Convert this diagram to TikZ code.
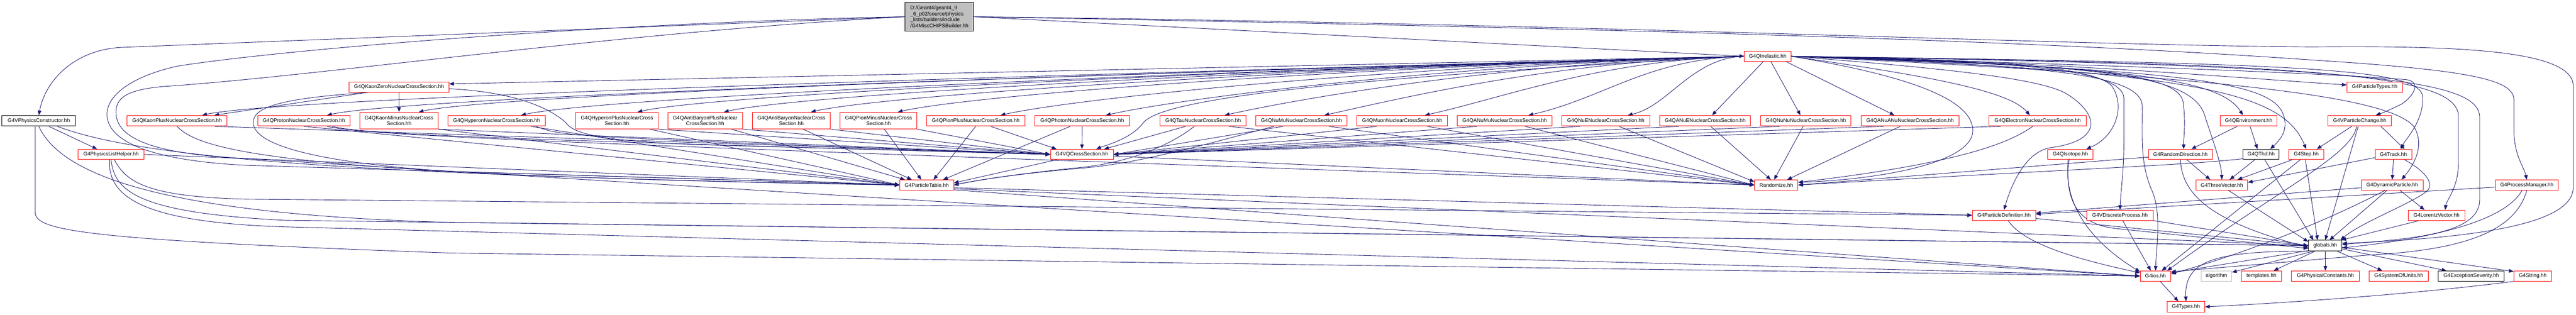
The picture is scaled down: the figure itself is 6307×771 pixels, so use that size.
\documentclass[tikz,border=0pt]{standalone}
\usepackage{fontspec}
\setmainfont{Liberation Sans}
\usetikzlibrary{arrows.meta,calc,backgrounds}
\definecolor{edgeblue}{HTML}{191970}
\definecolor{rootgray}{HTML}{BFBFBF}
\definecolor{lgray}{HTML}{BFBFBF}
\tikzset{
 nbox/.style={draw=red, line width=0.5pt, fill=white, inner sep=0pt, align=center, font=\fontsize{5.1pt}{5.9pt}\selectfont, text=black},
 blkbox/.style={nbox, draw=black},
 grybox/.style={nbox, draw=lgray},
 rootbox/.style={nbox, draw=black, fill=rootgray, align=left},
 conn/.style={draw=edgeblue, line width=0.45pt, -{Triangle[length=4.6pt,width=3.6pt]}},
}
\newcommand\nd[7]{\node[#1, minimum width={(#4-#3)*0.4pt}, minimum height={(#6-#5)*0.4pt}] (#2) at ({(#3+#4)/2},{(#5+#6)/2}) {#7};}
\newcommand\qil[3]{\draw[conn] (qi.west) .. controls ({4271-0.45*(4271-#2)},{138+0.012*(4271-#2)}) and ({#2+min(200,0.35*(4271-#2))},{#3-min(45,0.08*(4271-#2))}) .. ($(#1.north)!0.5!(#1.north east)$);}
\begin{document}
\begin{tikzpicture}[x=0.4pt,y=-0.4pt]
\useasboundingbox (0,0) rectangle (6307,771);
% nodes
\nd{rootbox}{root}{2216}{2384}{6}{76}{D:/Geant4/geant4\_9\\\_6\_p02/source/physics\\\_lists/builders/include\\/G4MiscCHIPSBuilder.hh}
\nd{blkbox}{vpc}{5}{185}{283}{309}{G4VPhysicsConstructor.hh}
\nd{nbox}{plh}{191}{353}{366}{391}{G4PhysicsListHelper.hh}
\nd{nbox}{kplus}{311}{556}{283}{309}{G4QKaonPlusNuclearCrossSection.hh}
\nd{nbox}{proton}{631}{857}{283}{309}{G4QProtonNuclearCrossSection.hh}
\nd{nbox}{kminus}{881}{1073}{275}{316}{G4QKaonMinusNuclearCross\\Section.hh}
\nd{nbox}{kzero}{855}{1099}{201}{226}{G4QKaonZeroNuclearCrossSection.hh}
\nd{nbox}{hyp}{1097}{1335}{283}{309}{G4QHyperonNuclearCrossSection.hh}
\nd{nbox}{hypplus}{1410}{1611}{275}{316}{G4QHyperonPlusNuclearCross\\Section.hh}
\nd{nbox}{abplus}{1635}{1818}{275}{316}{G4QAntiBaryonPlusNuclear\\CrossSection.hh}
\nd{nbox}{ab}{1842}{2033}{275}{316}{G4QAntiBaryonNuclearCross\\Section.hh}
\nd{nbox}{pimin}{2057}{2245}{275}{316}{G4QPionMinusNuclearCross\\Section.hh}
\nd{nbox}{piplus}{2268}{2510}{283}{309}{G4QPionPlusNuclearCrossSection.hh}
\nd{nbox}{photon}{2534}{2765}{283}{309}{G4QPhotonNuclearCrossSection.hh}
\nd{nbox}{tau}{2840}{3051}{283}{309}{G4QTauNuclearCrossSection.hh}
\nd{nbox}{numu}{3075}{3298}{283}{309}{G4QNuMuNuclearCrossSection.hh}
\nd{nbox}{muon}{3322}{3544}{283}{309}{G4QMuonNuclearCrossSection.hh}
\nd{nbox}{anumu}{3568}{3800}{283}{309}{G4QANuMuNuclearCrossSection.hh}
\nd{nbox}{nue}{3824}{4039}{283}{309}{G4QNuENuclearCrossSection.hh}
\nd{nbox}{anue}{4064}{4286}{283}{309}{G4QANuENuclearCrossSection.hh}
\nd{nbox}{nunu}{4311}{4532}{283}{309}{G4QNuNuNuclearCrossSection.hh}
\nd{nbox}{ananu}{4557}{4796}{283}{309}{G4QANuANuNuclearCrossSection.hh}
\nd{nbox}{elec}{4870}{5108}{283}{309}{G4QElectronNuclearCrossSection.hh}
\nd{nbox}{qi}{4271}{4385}{125}{151}{G4QInelastic.hh}
\nd{nbox}{pt}{2203}{2335}{441}{466}{G4ParticleTable.hh}
\nd{nbox}{vq}{2572}{2726}{366}{391}{G4VQCrossSection.hh}
\nd{nbox}{rnd}{4296}{4402}{441}{466}{Randomize.hh}
\nd{nbox}{pd}{4829}{4984}{515}{540}{G4ParticleDefinition.hh}
\nd{nbox}{qiso}{5014}{5124}{366}{391}{G4QIsotope.hh}
\nd{nbox}{qenv}{5436}{5575}{283}{309}{G4QEnvironment.hh}
\nd{nbox}{rdir}{5260}{5417}{366}{391}{G4RandomDirection.hh}
\nd{blkbox}{qthd}{5492}{5580}{366}{391}{G4QThd.hh}
\nd{nbox}{step}{5604}{5689}{366}{391}{G4Step.hh}
\nd{nbox}{tv}{5377}{5503}{441}{466}{G4ThreeVector.hh}
\nd{nbox}{vdp}{5109}{5272}{515}{540}{G4VDiscreteProcess.hh}
\nd{nbox}{ios}{5240}{5315}{664}{689}{G4ios.hh}
\nd{grybox}{algo}{5389}{5464}{664}{689}{algorithm}
\nd{nbox}{tmpl}{5488}{5586}{664}{689}{templates.hh}
\nd{nbox}{phc}{5610}{5777}{664}{689}{G4PhysicalConstants.hh}
\nd{nbox}{types}{5306}{5398}{739}{765}{G4Types.hh}
\nd{blkbox}{glob}{5652}{5734}{589}{615}{globals.hh}
\nd{nbox}{ptypes}{5746}{5882}{201}{226}{G4ParticleTypes.hh}
\nd{nbox}{vpch}{5700}{5855}{283}{309}{G4VParticleChange.hh}
\nd{nbox}{track}{5815}{5905}{366}{391}{G4Track.hh}
\nd{nbox}{dyn}{5781}{5933}{441}{466}{G4DynamicParticle.hh}
\nd{nbox}{pm}{6109}{6264}{441}{466}{G4ProcessManager.hh}
\nd{nbox}{lv}{5896}{6035}{515}{540}{G4LorentzVector.hh}
\nd{nbox}{sou}{5800}{5946}{664}{689}{G4SystemOfUnits.hh}
\nd{blkbox}{exc}{5970}{6131}{664}{689}{G4ExceptionSeverity.hh}
\nd{nbox}{str}{6155}{6247}{664}{689}{G4String.hh}
\begin{pgfonlayer}{background}
\fill[white] (0,0) rectangle (6307,771);
% root
\draw[conn] (root.west) -- (300,116) .. controls (180,121) and (110,200) .. (vpc.north);
\draw[conn] (root.west) .. controls (1500,55) and (700,120) .. (435,162) .. controls (330,185) and (262,230) .. (262,280) .. controls (262,340) and (350,392) .. (600,405) -- (pt.west);
\draw[conn] (root.west) .. controls (1500,80) and (800,185) .. (400,212) .. controls (310,220) and (284,240) .. (284,275) .. controls (284,330) and (350,372) .. (560,386) -- (ios.west);
\draw[conn] (root.east) -- (qi.west);
\draw[conn] (root.east) .. controls (4000,70) and (5000,100) .. (5660,147) .. controls (6050,172) and (6155,195) .. (6155,245) -- (6155,320) .. controls (6155,380) and (6180,410) .. (pm.north);
\draw[conn] (root.east) .. controls (4000,60) and (5000,110) .. (5660,115) .. controls (6000,112) and (6300,120) .. (6300,210) -- (6300,460) .. controls (6300,560) and (6000,585) .. ($(glob.east)!0.4!(glob.north east)$);
% G4QInelastic to cross sections
\qil{kplus}{495}{283}
\qil{proton}{800}{283}
\qil{kminus}{1025}{275}
\qil{hyp}{1276}{283}
\qil{hypplus}{1561}{275}
\qil{abplus}{1772}{275}
\qil{ab}{1985}{275}
\qil{pimin}{2198}{275}
\qil{piplus}{2450}{283}
\qil{photon}{2707}{283}
\qil{tau}{2998}{283}
\qil{numu}{3242}{283}
\qil{muon}{3488}{283}
\qil{anumu}{3742}{283}
\qil{nue}{3985}{283}
\draw[conn] (qi.west) -- ($(kzero.north east)!0.2!(kzero.south east)$);
\draw[conn] ($(qi.south west)!0.4!(qi.south east)$) -- ($(anue.north)!0.15!(anue.north east)$);
\draw[conn] ($(qi.south west)!0.57!(qi.south east)$) -- ($(nunu.north west)!0.88!(nunu.north)$);
\draw[conn] ($(qi.south west)!0.9!(qi.south east)$) -- ($(ananu.north)!0.32!(ananu.north west)$);
\draw[conn] (qi.east) .. controls (4750,190) and (4920,225) .. ($(elec.north)!0.16!(elec.north west)$);
\draw[conn] (qi.east) .. controls (5000,150) and (5400,185) .. ($(ptypes.north west)!0.3!(ptypes.south west)$);
\draw[conn] (qi.west) .. controls (3300,190) and (2850,240) .. (2800,300) .. controls (2770,340) and (2710,355) .. ($(vq.north)!0.45!(vq.north east)$);
\draw[conn] (qi.east) .. controls (4700,190) and (4830,250) .. (4830,320) .. controls (4830,400) and (4600,440) .. ($(rnd.east)!0.5!(rnd.north east)$);
\draw[conn] (qi.east) .. controls (4800,170) and (5000,195) .. (5060,230) .. controls (5140,280) and (5150,345) .. (5020,362) .. controls (4960,372) and (4925,450) .. (pd.north);
\draw[conn] (qi.east) .. controls (4850,145) and (5120,160) .. (5170,210) .. controls (5205,260) and (5180,335) .. ($(qiso.north)!0.7!(qiso.north east)$);
\draw[conn] (qi.east) .. controls (4950,150) and (5195,170) .. (5200,240) -- (5200,350) .. controls (5200,420) and (5192,470) .. (vdp.north);
\draw[conn] (qi.east) .. controls (5000,160) and (5243,180) .. (5245,260) .. controls (5246,330) and (5238,400) .. (5270,470) .. controls (5292,525) and (5280,600) .. (ios.north);
\draw[conn] (qi.east) .. controls (5050,160) and (5330,170) .. (5345,250) .. controls (5352,300) and (5346,340) .. ($(rdir.north)!0.1!(rdir.north east)$);
\draw[conn] (qi.east) .. controls (5150,160) and (5375,180) .. (5400,290) .. controls (5420,350) and (5438,400) .. (tv.north);
\draw[conn] (qi.east) .. controls (5250,160) and (5440,200) .. ($(qenv.north)!0.2!(qenv.north west)$);
\draw[conn] (qi.east) .. controls (5350,170) and (5560,200) .. (5590,280) .. controls (5605,320) and (5580,345) .. ($(qthd.north)!0.5!(qthd.north east)$);
\draw[conn] (qi.east) .. controls (5400,175) and (5590,230) .. (step.north);
\draw[conn] (qi.east) .. controls (5200,160) and (5700,180) .. (5890,195) .. controls (5930,200) and (5910,235) .. (5880,255) .. controls (5850,270) and (5830,278) .. ($(vpch.north)!0.5!(vpch.north east)$);
\draw[conn] (qi.east) .. controls (5700,155) and (5930,170) .. (5932,240) .. controls (5932,300) and (5890,340) .. ($(track.north)!0.4!(track.north east)$);
\draw[conn] (qi.east) .. controls (5500,190) and (5850,240) .. (5910,310) .. controls (5940,360) and (5905,410) .. ($(dyn.north)!0.3!(dyn.north east)$);
\draw[conn] (qi.east) .. controls (5700,155) and (6005,185) .. (6019,280) -- (6019,400) .. controls (6019,460) and (5990,490) .. ($(lv.north)!0.3!(lv.north east)$);
\draw[conn] (qi.east) .. controls (5800,160) and (6065,195) .. (6071,285) -- (6071,490) .. controls (6071,575) and (5900,585) .. ($(glob.east)!0.2!(glob.north east)$);
% cross sections to G4ParticleTable
\draw[conn] (kplus.south) .. controls (490,370) and (700,430) .. (pt.west);
\draw[conn] (proton.south) -- (pt.west);
\draw[conn] (kminus.south east) -- (pt.west);
\draw[conn] ($(hyp.south)!0.7!(hyp.south east)$) -- (pt.west);
\draw[conn] ($(hypplus.south)!0.8!(hypplus.south east)$) -- (pt.west);
\draw[conn] ($(abplus.south)!0.7!(abplus.south east)$) -- ($(pt.north west)!0.2!(pt.north)$);
\draw[conn] ($(ab.south)!0.3!(ab.south east)$) -- ($(pt.north west)!0.45!(pt.north)$);
\draw[conn] ($(pimin.south)!0.15!(pimin.south east)$) -- ($(pt.north west)!0.8!(pt.north)$);
\draw[conn] (piplus.south) -- ($(pt.north)!0.25!(pt.north east)$);
\draw[conn] ($(photon.south)!0.25!(photon.south west)$) -- ($(pt.north)!0.6!(pt.north east)$);
\draw[conn] ($(tau.south)!0.2!(tau.south west)$) .. controls (2860,360) and (2760,398) .. (2650,410) .. controls (2500,425) and (2400,440) .. (pt.east);
\draw[conn] ($(numu.south west)!0.2!(numu.south east)$) .. controls (3000,340) and (2800,400) .. (2650,412) .. controls (2500,425) and (2400,440) .. (pt.east);
\draw[conn] ($(vq.south west)!0.1!(vq.south east)$) -- ($(pt.north east)!0.3!(pt.south east)$);
\draw[conn] ($(kzero.south west)!0.2!(kzero.south east)$) .. controls (700,240) and (620,260) .. (620,300) .. controls (620,360) and (800,400) .. (1100,420) -- (pt.west);
% cross sections to G4VQCrossSection
\draw[conn] ($(kplus.south)!0.75!(kplus.south east)$) -- (vq.west);
\draw[conn] ($(proton.south)!0.6!(proton.south east)$) .. controls (900,330) and (1200,340) .. (vq.west);
\draw[conn] (kminus.south east) -- (vq.west);
\draw[conn] ($(kzero.east)!0.3!(kzero.south east)$) .. controls (1250,225) and (1340,260) .. (1385,300) .. controls (1405,330) and (1480,348) .. (1760,356) -- (vq.west);
\draw[conn] ($(hyp.south)!0.8!(hyp.south east)$) .. controls (1380,335) .. (vq.west);
\draw[conn] (hypplus.south east) -- (vq.west);
\draw[conn] (abplus.south east) -- (vq.west);
\draw[conn] (ab.south east) -- (vq.west);
\draw[conn] (pimin.south east) -- (vq.west);
\draw[conn] ($(piplus.south)!0.3!(piplus.south east)$) -- ($(vq.north west)!0.2!(vq.north)$);
\draw[conn] (photon.south) -- (vq.north);
\draw[conn] ($(tau.south west)!0.3!(tau.south east)$) -- ($(vq.north)!0.7!(vq.north east)$);
\draw[conn] ($(numu.south west)!0.3!(numu.south east)$) -- (vq.east);
\draw[conn] ($(muon.south west)!0.22!(muon.south east)$) -- (vq.east);
\draw[conn] ($(anumu.south west)!0.21!(anumu.south east)$) -- (vq.east);
\draw[conn] ($(nue.south west)!0.21!(nue.south east)$) -- (vq.east);
\draw[conn] ($(anue.south west)!0.21!(anue.south east)$) -- (vq.east);
\draw[conn] ($(nunu.south west)!0.21!(nunu.south east)$) -- (vq.east);
\draw[conn] ($(ananu.south west)!0.23!(ananu.south east)$) -- (vq.east);
\draw[conn] ($(elec.south west)!0.12!(elec.south east)$) -- (vq.east);
% to Randomize
\draw[conn] ($(proton.south)!0.5!(proton.south east)$) .. controls (900,333) and (1300,348) .. (rnd.west);
\draw[conn] ($(vq.east)!0.3!(vq.south east)$) -- (rnd.west);
\draw[conn] ($(tau.south)!0.6!(tau.south east)$) -- (rnd.west);
\draw[conn] ($(numu.south)!0.6!(numu.south east)$) -- (rnd.west);
\draw[conn] ($(muon.south)!0.55!(muon.south east)$) -- (rnd.west);
\draw[conn] ($(anumu.south)!0.43!(anumu.south east)$) -- (rnd.west);
\draw[conn] ($(nue.south)!0.3!(nue.south east)$) -- ($(rnd.west)!0.6!(rnd.north west)$);
\draw[conn] ($(anue.south)!0.12!(anue.south east)$) -- ($(rnd.north)!0.25!(rnd.north west)$);
\draw[conn] ($(nunu.south west)!0.47!(nunu.south east)$) -- ($(rnd.north)!0.1!(rnd.north west)$);
\draw[conn] ($(ananu.south)!0.2!(ananu.south west)$) -- ($(rnd.north)!0.5!(rnd.north east)$);
\draw[conn] ($(elec.south)!0.1!(elec.south west)$) .. controls (4920,350) and (4800,400) .. ($(rnd.east)!0.5!(rnd.north east)$);
\draw[conn] ($(rdir.west)!0.5!(rdir.south west)$) -- (rnd.east);
\draw[conn] ($(qthd.west)!0.8!(qthd.south west)$) .. controls (5350,405) and (5100,413) .. (rnd.east);
% physics constructor and helper
\draw[conn] ($(vpc.south)!0.27!(vpc.south east)$) -- ($(plh.north west)!0.58!(plh.north)$);
\draw[conn] ($(vpc.south)!0.5!(vpc.south east)$) .. controls (350,390) and (900,430) .. (pt.west);
\draw[conn] (vpc.south) .. controls (150,430) and (400,525) .. (1100,545) -- (glob.west);
\draw[conn] ($(vpc.south)!0.1!(vpc.south west)$) -- (86,520) .. controls (86,565) and (200,588) .. (1100,620) -- (ios.west);
\draw[conn] (plh.east) -- (pt.west);
\draw[conn] ($(plh.south)!0.1!(plh.south east)$) .. controls (310,450) and (370,482) .. (600,488) -- (pd.west);
\draw[conn] (plh.south) .. controls (280,470) and (340,522) .. (700,540) -- (glob.west);
\draw[conn] ($(plh.south)!0.05!(plh.south west)$) .. controls (265,475) and (330,545) .. (700,556) -- (ios.west);
% particle table
\draw[conn] ($(pt.east)!0.5!(pt.south east)$) -- (pd.west);
\draw[conn] ($(pt.east)!0.7!(pt.south east)$) -- (glob.west);
\draw[conn] ($(pt.east)!0.9!(pt.south east)$) -- (ios.west);
% kaon zero
\draw[conn] ($(kzero.south west)!0.18!(kzero.south east)$) -- ($(kplus.north)!0.74!(kplus.north east)$);
\draw[conn] (kzero.south) -- (kminus.north);
% right cluster
\draw[conn] ($(qenv.south west)!0.3!(qenv.south east)$) -- ($(rdir.north)!0.34!(rdir.north east)$);
\draw[conn] ($(qenv.south)!0.05!(qenv.south east)$) -- ($(qthd.north west)!0.8!(qthd.north)$);
\draw[conn] ($(rdir.south)!0.2!(rdir.south east)$) -- ($(tv.north west)!0.55!(tv.north)$);
\draw[conn] (rdir.south) .. controls (5342,480) and (5420,545) .. ($(glob.west)!0.3!(glob.south west)$);
\draw[conn] ($(qthd.south)!0.35!(qthd.south west)$) -- ($(tv.north)!0.3!(tv.north east)$);
\draw[conn] ($(qthd.south)!0.2!(qthd.south east)$) -- ($(glob.north west)!0.3!(glob.north)$);
\draw[conn] ($(step.south west)!0.1!(step.south east)$) -- ($(tv.north east)!0.4!(tv.north)$);
\draw[conn] ($(step.south west)!0.33!(step.south east)$) -- ($(ios.north)!0.4!(ios.north east)$);
\draw[conn] ($(step.south)!0.05!(step.south west)$) -- ($(glob.north west)!0.55!(glob.north)$);
\draw[conn] ($(vpch.south)!0.25!(vpch.south west)$) -- ($(step.north)!0.6!(step.north east)$);
\draw[conn] ($(vpch.south)!0.1!(vpch.south west)$) .. controls (5760,380) and (5570,470) .. ($(ios.north)!0.75!(ios.north east)$);
\draw[conn] ($(vpch.south)!0.05!(vpch.south west)$) -- (glob.north);
\draw[conn] ($(vpch.south)!0.66!(vpch.south east)$) -- ($(track.north)!0.6!(track.north east)$);
\draw[conn] ($(track.west)!0.6!(track.south west)$) -- ($(tv.north east)!0.25!(tv.south east)$);
\draw[conn] (track.south) -- (dyn.north);
\draw[conn] ($(track.south)!0.6!(track.south east)$) .. controls (5930,415) and (5960,445) .. (5945,465) .. controls (5925,490) and (5780,545) .. ($(glob.north east)!0.1!(glob.north)$);
\draw[conn] ($(dyn.west)!0.5!(dyn.south west)$) -- ($(pd.east)!0.4!(pd.north east)$);
\draw[conn] ($(dyn.south)!0.25!(dyn.south east)$) -- ($(lv.north)!0.42!(lv.north west)$);
\draw[conn] ($(dyn.south)!0.17!(dyn.south west)$) -- ($(glob.north)!0.25!(glob.north east)$);
\draw[conn] ($(dyn.south)!0.23!(dyn.south west)$) .. controls (5700,540) and (5500,620) .. ($(ios.east)!0.4!(ios.north east)$);
\draw[conn] ($(pm.west)!0.4!(pm.south west)$) -- ($(pd.east)!0.2!(pd.north east)$);
\draw[conn] ($(pm.south)!0.15!(pm.south west)$) .. controls (6140,530) and (6000,580) .. ($(glob.east)!0.4!(glob.south east)$);
\draw[conn] (pm.south) .. controls (6160,560) and (6050,612) .. (5800,625) -- ($(ios.north east)!0.2!(ios.east)$);
\draw[conn] ($(lv.south west)!0.2!(lv.south east)$) -- ($(glob.north east)!0.05!(glob.north)$);
\draw[conn] ($(tv.south)!0.25!(tv.south east)$) -- ($(glob.north west)!0.3!(glob.west)$);
\draw[conn] ($(vdp.south)!0.08!(vdp.south east)$) -- ($(ios.north)!0.3!(ios.north west)$);
\draw[conn] (vdp.south east) -- (glob.west);
\draw[conn] ($(qiso.south)!0.05!(qiso.south west)$) .. controls (5050,470) and (5090,575) .. ($(ios.north west)!0.2!(ios.west)$);
\draw[conn] ($(qiso.south)!0.1!(qiso.south west)$) .. controls (5058,480) and (5075,548) .. (5180,560) -- ($(glob.west)!0.5!(glob.south west)$);
\draw[conn] ($(pd.east)!0.6!(pd.south east)$) -- (glob.west);
\draw[conn] ($(pd.south)!0.13!(pd.south east)$) .. controls (4950,590) and (5050,628) .. ($(ios.west)!0.6!(ios.north west)$);
% globals
\draw[conn] ($(glob.south west)!0.1!(glob.west)$) -- ($(ios.east)!0.6!(ios.north east)$);
\draw[conn] ($(glob.south west)!0.15!(glob.south east)$) -- ($(algo.north east)!0.3!(algo.east)$);
\draw[conn] ($(glob.south west)!0.2!(glob.south east)$) -- ($(tmpl.north)!0.6!(tmpl.north east)$);
\draw[conn] (glob.south) -- (phc.north);
\draw[conn] ($(glob.south)!0.7!(glob.south east)$) -- ($(sou.north)!0.55!(sou.north west)$);
\draw[conn] ($(glob.east)!0.6!(glob.south east)$) -- ($(exc.north west)!0.25!(exc.north)$);
\draw[conn] ($(glob.east)!0.3!(glob.south east)$) -- ($(str.west)!0.85!(str.north west)$);
\draw[conn] (glob.south west) .. controls (5420,615) and (5348,640) .. (types.north);
\draw[conn] ($(ios.south)!0.3!(ios.south east)$) -- ($(types.north west)!0.6!(types.north)$);
\draw[conn] (str.south west) .. controls (5900,722) and (5600,742) .. (types.east);
\end{pgfonlayer}
\end{tikzpicture}
\end{document}
